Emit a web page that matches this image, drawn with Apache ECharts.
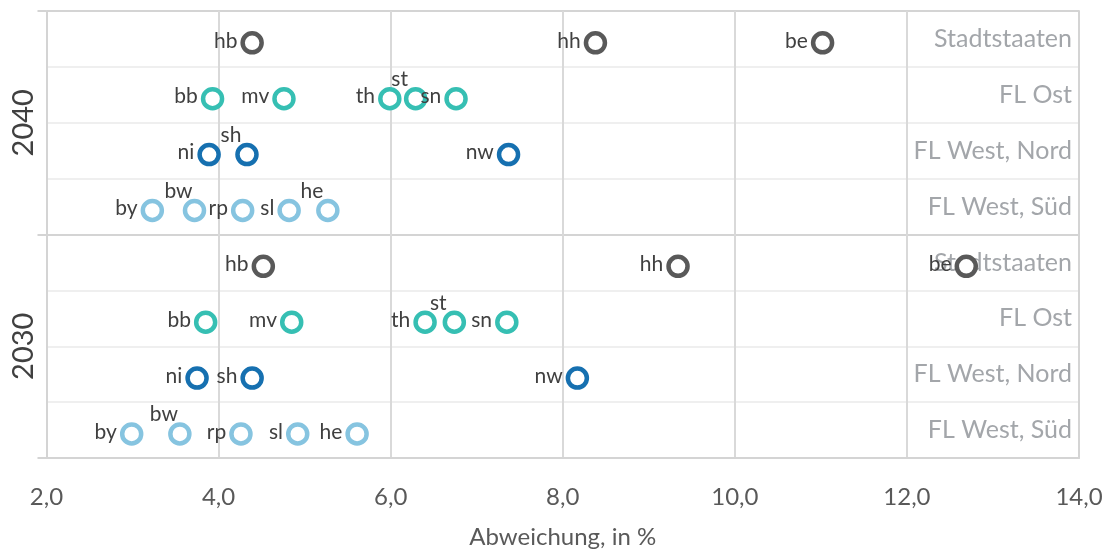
<!DOCTYPE html>
<html>
<head>
<meta charset="utf-8">
<script src="https://cdn.jsdelivr.net/npm/echarts@6/dist/echarts.min.js"></script>
<style>
  html, body { margin: 0; padding: 0; background: #fff; }
  #chart { width: 1109px; height: 554px; }
</style>
</head>
<body>
<div id="chart"></div>
<script>
// ---- Data ----
const years = ['2030', '2040'];
const groupLabels = ['FL West, Süd', 'FL West, Nord', 'FL Ost', 'Stadtstaaten']; // bottom -> top within a year

const names_sued  = ['by', 'bw', 'rp', 'sl', 'he'];
const sued_2040   = [3.23, 3.72, 4.28, 4.82, 5.27];
const sued_2030   = [2.99, 3.55, 4.26, 4.92, 5.61];

const names_nord  = ['ni', 'sh', 'nw'];
const nord_2040   = [3.89, 4.33, 7.37];
const nord_2030   = [3.75, 4.39, 8.17];

const names_ost   = ['bb', 'mv', 'th', 'st', 'sn'];
const ost_2040    = [3.93, 4.76, 5.99, 6.29, 6.76];
const ost_2030    = [3.85, 4.85, 6.40, 6.74, 7.35];

const names_stadt = ['hb', 'hh', 'be'];
const stadt_2040  = [4.39, 8.38, 11.02];
const stadt_2030  = [4.52, 9.34, 12.69];

// labels placed above-left instead of left
const raisedLabels = {
  '2040': ['st', 'sh', 'bw', 'he'],
  '2030': ['st', 'bw']
};

// ---- Styling ----
const FONT = 'Lato, "Open Sans", sans-serif';
const colors = {
  sued: '#86c4e0',
  nord: '#1670b0',
  ost: '#36bfb3',
  stadt: '#595959'
};
const ROW_OFFSET = 0.43; // marker sits slightly below row centre

const groupsDef = [
  { key: 'sued',  names: names_sued,  vals: { '2030': sued_2030,  '2040': sued_2040 } },
  { key: 'nord',  names: names_nord,  vals: { '2030': nord_2030,  '2040': nord_2040 } },
  { key: 'ost',   names: names_ost,   vals: { '2030': ost_2030,   '2040': ost_2040 } },
  { key: 'stadt', names: names_stadt, vals: { '2030': stadt_2030, '2040': stadt_2040 } }
];

const series = [];
years.forEach((yr, yi) => {
  groupsDef.forEach((g, gi) => {
    const row = yi * groupLabels.length + gi;
    series.push({
      type: 'scatter',
      name: yr + ' ' + groupLabels[gi],
      yAxisIndex: 0,
      symbol: 'circle',
      symbolSize: 19,
      itemStyle: { color: '#ffffff', borderColor: colors[g.key], borderWidth: 4.5, opacity: 1 },
      label: {
        show: true,
        formatter: p => p.name,
        position: 'left',
        distance: 3,
        color: '#404040',
        fontFamily: FONT,
        fontSize: 21,
        offset: [0, -2]
      },
      emphasis: { disabled: true },
      data: g.vals[yr].map((v, i) => {
        const nm = g.names[i];
        const item = { name: nm, value: [v, row + ROW_OFFSET] };
        if (raisedLabels[yr].indexOf(nm) >= 0) {
          item.label = { position: 'top', distance: -3, offset: [-16, 0] };
        }
        return item;
      }),
      z: 5
    });
  });
});

const rowLabels = [];
years.forEach(() => groupLabels.forEach(l => rowLabels.push(l)));

const chart = echarts.init(document.getElementById('chart'), null, { renderer: 'canvas' });
chart.setOption({
  animation: false,
  backgroundColor: '#ffffff',
  grid: { left: 46.5, right: 30, top: 11, bottom: 96, containLabel: false, outerBoundsMode: 'none' },
  xAxis: {
    type: 'value',
    min: 2, max: 14, interval: 2,
    name: 'Abweichung, in %',
    nameLocation: 'middle',
    nameGap: 67,
    nameTextStyle: { color: '#595959', fontFamily: FONT, fontSize: 24 },
    axisLine: { show: true, lineStyle: { color: '#d4d4d4', width: 2 } },
    axisTick: { show: false },
    axisLabel: {
      color: '#595959', fontFamily: FONT, fontSize: 24, margin: 27,
      formatter: v => v.toFixed(1).replace('.', ',')
    },
    splitLine: { show: true, lineStyle: { color: '#d9d9d9', width: 2 } }
  },
  yAxis: [
    {
      type: 'value',
      min: 0, max: groupLabels.length * years.length, interval: 1,
      axisLine: { show: false },
      axisTick: { show: false },
      axisLabel: { show: false },
      splitLine: {
        show: true,
        lineStyle: { color: ['#d4d4d4', '#efefef', '#efefef', '#efefef'], width: 2 }
      }
    },
    {
      type: 'category',
      data: years,
      position: 'left',
      boundaryGap: true,
      axisLine: { show: true, lineStyle: { color: '#d4d4d4', width: 2 } },
      axisTick: { show: true, length: 9, lineStyle: { color: '#d4d4d4', width: 2 } },
      axisLabel: {
        rotate: 90, margin: 8,
        color: '#404040', fontFamily: FONT, fontSize: 29
      },
      splitLine: { show: false }
    },
    {
      type: 'category',
      data: rowLabels,
      position: 'right',
      boundaryGap: true,
      axisLine: { show: true, lineStyle: { color: '#d4d4d4', width: 2 } },
      axisTick: { show: false },
      axisLabel: {
        inside: true, margin: 7,
        color: '#a3a6aa', fontFamily: FONT, fontSize: 25
      },
      splitLine: { show: false }
    }
  ],
  series: series
});
</script>
</body>
</html>
